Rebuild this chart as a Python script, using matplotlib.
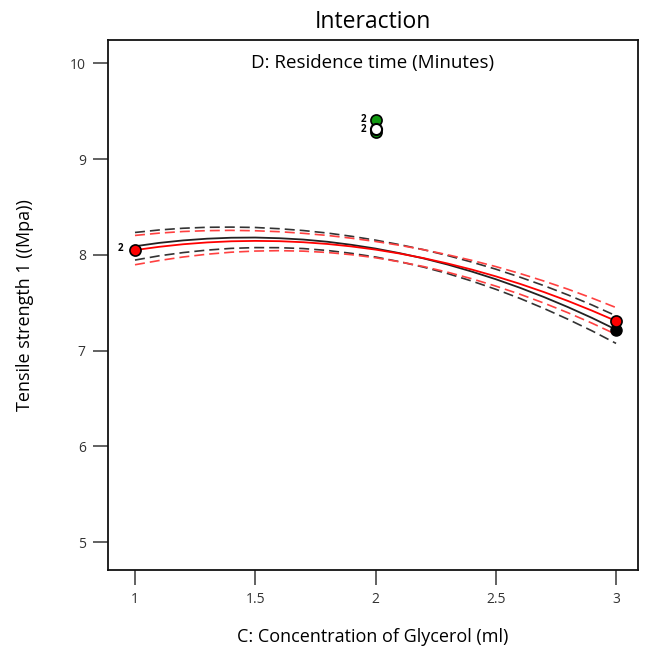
import numpy as np
import matplotlib
matplotlib.use('Agg')
import matplotlib.pyplot as plt

plt.rcParams['font.family'] = ['Open Sans', 'DejaVu Sans']

# x values along the factor C
conc = [1.0, 1.1, 1.2, 1.3, 1.4, 1.5, 1.6, 1.7, 1.8, 1.9, 2.0,
        2.1, 2.2, 2.3, 2.4, 2.5, 2.6, 2.7, 2.8, 2.9, 3.0]

# D low (black) and D high (red) predicted lines
black_line = [8.090, 8.125, 8.151, 8.169, 8.179, 8.181, 8.174, 8.160, 8.137, 8.105, 8.066,
              8.018, 7.963, 7.899, 7.826, 7.746, 7.657, 7.560, 7.455, 7.342, 7.220]
red_line = [8.050, 8.084, 8.111, 8.130, 8.142, 8.146, 8.143, 8.132, 8.114, 8.088, 8.055,
            8.014, 7.966, 7.910, 7.847, 7.776, 7.698, 7.612, 7.519, 7.418, 7.310]

# half widths of the confidence bands
black_band = [0.144, 0.135, 0.127, 0.119, 0.111, 0.105, 0.099, 0.094, 0.091, 0.089, 0.088,
              0.089, 0.091, 0.094, 0.099, 0.105, 0.111, 0.119, 0.127, 0.135, 0.144]
red_band = [0.153, 0.143, 0.133, 0.123, 0.114, 0.106, 0.099, 0.093, 0.089, 0.086, 0.085,
            0.086, 0.088, 0.091, 0.096, 0.102, 0.108, 0.115, 0.123, 0.131, 0.140]

# design points
red_pts_x = [1, 3]
red_pts_y = [8.055, 7.307]
black_pts_x = [3]
black_pts_y = [7.22]
green_pts_x = [2, 2]
green_pts_y = [9.41, 9.28]
white_pts_x = [2]
white_pts_y = [9.31]

x = np.array(conc)
bl = np.array(black_line)
rl = np.array(red_line)
bb = np.array(black_band)
rb = np.array(red_band)

fig = plt.figure(figsize=(6.47, 6.5), dpi=100)
ax = fig.add_axes([0.167, 0.123, 0.819, 0.815])

ax.plot(x, bl + bb, color='#333333', lw=1.2, ls=(0, (6, 3)))
ax.plot(x, bl - bb, color='#333333', lw=1.2, ls=(0, (6, 3)))
ax.plot(x, rl + rb, color='#ff4040', lw=1.2, ls=(0, (6, 3)))
ax.plot(x, rl - rb, color='#ff4040', lw=1.2, ls=(0, (6, 3)))
ax.plot(x, bl, color='#222222', lw=1.3)
ax.plot(x, rl, color='#ff0000', lw=1.3)

ax.plot(black_pts_x, black_pts_y, 'o', ms=8, mfc='black', mec='black', zorder=5)
ax.plot(red_pts_x, red_pts_y, 'o', ms=8, mfc='#ff0000', mec='black', mew=1.2, zorder=6)
ax.plot(green_pts_x, green_pts_y, 'o', ms=8, mfc='#119911', mec='black', mew=1.2, zorder=5)
ax.plot(white_pts_x, white_pts_y, 'o', ms=8, mfc='white', mec='black', mew=1.5, zorder=6)

ax.text(0.95, 8.065, '2', fontsize=7, fontweight='bold', ha='right', va='center')
ax.text(1.96, 9.41, '2', fontsize=7, fontweight='bold', ha='right', va='center')
ax.text(1.96, 9.31, '2', fontsize=7, fontweight='bold', ha='right', va='center')

ax.set_xlim(0.888, 3.091)
ax.set_ylim(4.71, 10.24)
ax.set_xticks([1, 1.5, 2, 2.5, 3])
ax.set_xticklabels(['1', '1.5', '2', '2.5', '3'])
ax.set_yticks([5, 6, 7, 8, 9, 10])

for s in ax.spines.values():
    s.set_linewidth(1.3)
    s.set_color('#111111')
ax.tick_params(direction='out', length=11, width=1.3, color='#555555',
               labelcolor='#333333', labelsize=10, pad=5)

ax.set_title('Interaction', fontsize=16.5, pad=9)
ax.text(0.5, 0.975, 'D: Residence time (Minutes)', transform=ax.transAxes,
        ha='center', va='top', fontsize=13.5)
ax.set_xlabel('C: Concentration of Glycerol (ml)', fontsize=13, labelpad=15)
ax.set_ylabel('Tensile strength 1 ((Mpa))', fontsize=13, labelpad=26)

fig.savefig('out.png', dpi=100)
